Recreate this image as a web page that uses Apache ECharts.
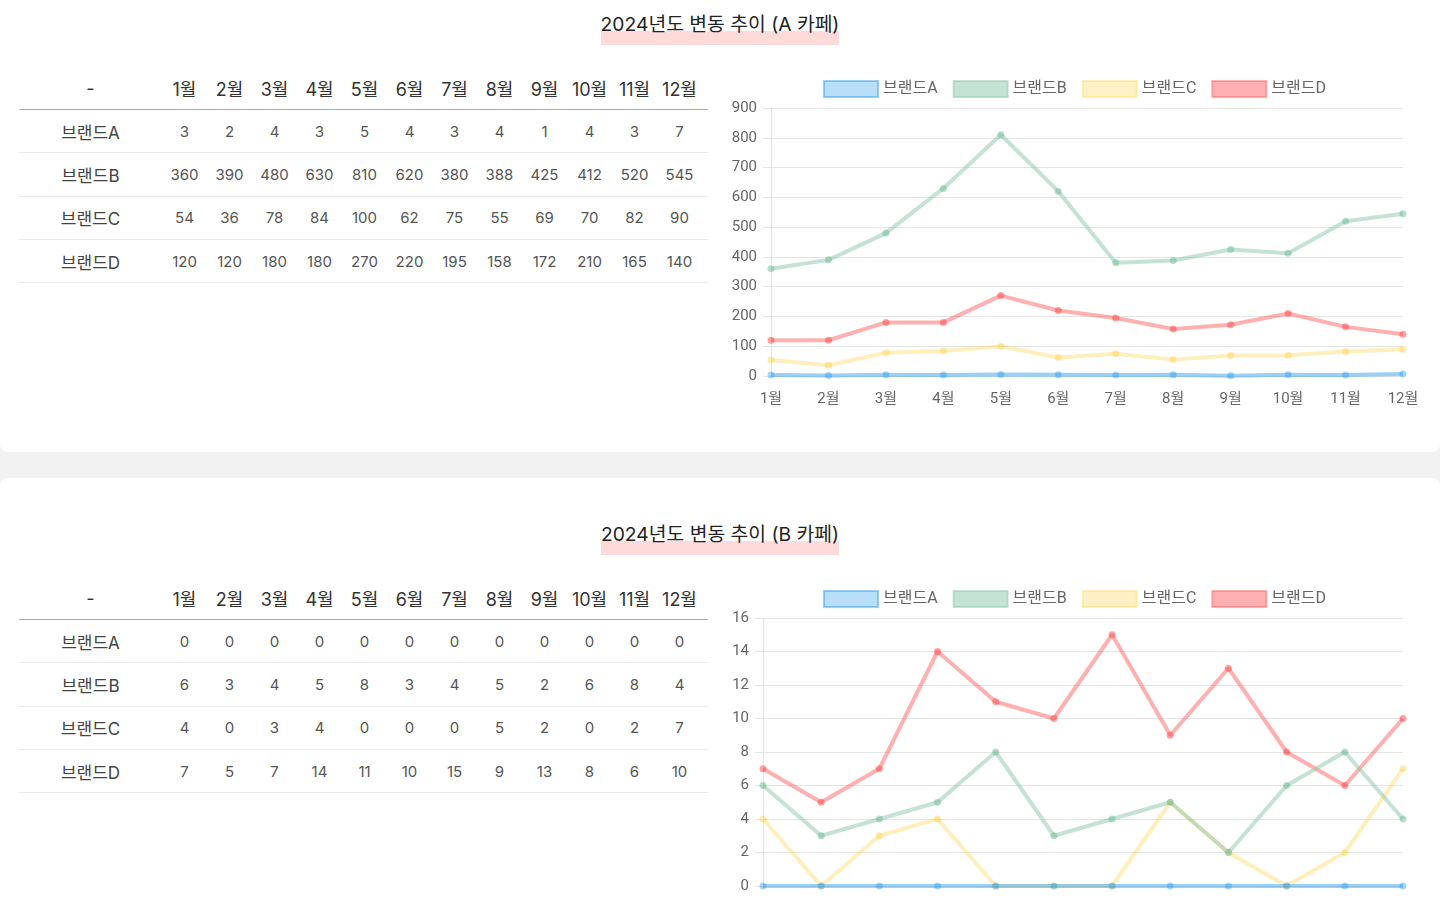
<!DOCTYPE html>
<html lang="ko">
<head>
<meta charset="utf-8">
<script src="https://cdn.jsdelivr.net/npm/echarts@6/dist/echarts.min.js"></script>
<style>
  html, body { margin: 0; padding: 0; }
  body {
    width: 1440px; height: 900px; overflow: hidden; position: relative;
    background: #f2f2f2;
    font-family: "Inter", "Noto Sans CJK KR", sans-serif;
  }
  .panel { position: absolute; left: 0; width: 1440px; background: #fff; }
  .title {
    position: absolute; left: 0; width: 1440px; text-align: center;
    font-size: 19.3px; color: #222;
  }
  .title span {
    display: inline-block; line-height: 26px; padding-bottom: 8px;
    background: linear-gradient(to bottom, transparent 58%, #ffdada 58%);
  }
  table {
    position: absolute; left: 19px; border-collapse: collapse; table-layout: fixed;
    width: 689px;
  }
  th, td { text-align: center; padding: 0; }
  th { height: 42px; font-size: 18px; color: #333; font-weight: 400; border-bottom: 1px solid #aaa; }
  td { height: 42.3px; font-size: 15px; color: #555; border-bottom: 1px solid #eaeaea; }
  td.brand { font-size: 17px; color: #444; }
  .chart { position: absolute; left: 720px; width: 720px; height: 360px; }
</style>
</head>
<body>
<div class="panel" style="top:0;height:452px;border-radius:0 0 8px 8px;"></div>
<div class="panel" style="top:478px;height:422px;border-radius:8px 8px 0 0;"></div>

<div class="title" style="top:11px"><span>2024년도 변동 추이 (A 카페)</span></div>
<table id="tableA" style="top:67px"></table>
<div id="chartA" class="chart" style="top:70px"></div>

<div class="title" style="top:521px"><span>2024년도 변동 추이 (B 카페)</span></div>
<table id="tableB" style="top:577px"></table>
<div id="chartB" class="chart" style="top:580px"></div>

<script>
const months = ["1월", "2월", "3월", "4월", "5월", "6월", "7월", "8월", "9월", "10월", "11월", "12월"];
const brands = ["브랜드A", "브랜드B", "브랜드C", "브랜드D"];

// A 카페
const cafeA_brandA = [3, 2, 4, 3, 5, 4, 3, 4, 1, 4, 3, 7];
const cafeA_brandB = [360, 390, 480, 630, 810, 620, 380, 388, 425, 412, 520, 545];
const cafeA_brandC = [54, 36, 78, 84, 100, 62, 75, 55, 69, 70, 82, 90];
const cafeA_brandD = [120, 120, 180, 180, 270, 220, 195, 158, 172, 210, 165, 140];

// B 카페
const cafeB_brandA = [0, 0, 0, 0, 0, 0, 0, 0, 0, 0, 0, 0];
const cafeB_brandB = [6, 3, 4, 5, 8, 3, 4, 5, 2, 6, 8, 4];
const cafeB_brandC = [4, 0, 3, 4, 0, 0, 0, 5, 2, 0, 2, 7];
const cafeB_brandD = [7, 5, 7, 14, 11, 10, 15, 9, 13, 8, 6, 10];

const lineColors = ["rgba(54,162,235,0.5)", "rgba(140,200,170,0.5)", "rgba(255,215,90,0.4)", "rgba(255,99,99,0.5)"];
const pointColors = ["rgba(54,162,235,0.45)", "rgba(110,190,150,0.5)", "rgba(255,210,80,0.45)", "rgba(255,70,70,0.5)"];
const boxColors = ["rgba(54,162,235,0.35)", "rgba(140,200,170,0.5)", "rgba(255,215,90,0.35)", "rgba(255,99,99,0.5)"];

const buildTable = (id, rows) => {
  let html = "<colgroup><col style='width:143px'>" + months.map(() => "<col style='width:45px'>").join("") + "<col style='width:6px'></colgroup>";
  html += "<tr><th>-</th>" + months.map((m) => `<th>${m}</th>`).join("") + "<th></th></tr>";
  rows.forEach((vals, i) => {
    html += `<tr><td class="brand">${brands[i]}</td>` + vals.map((v) => `<td>${v}</td>`).join("") + "<td></td></tr>";
  });
  document.getElementById(id).innerHTML = html;
};

const buildChart = (id, rows, max, interval, gridLeft) => {
  const chart = echarts.init(document.getElementById(id));
  chart.setOption({
    animation: false,
    textStyle: { fontFamily: "Roboto, 'Noto Sans CJK KR', sans-serif" },
    legend: {
      top: 5,
      left: 98,
      icon: "rect",
      itemWidth: 54,
      itemHeight: 16,
      itemGap: 15,
      textStyle: { color: "#666", fontSize: 16, fontFamily: "Roboto, 'Noto Sans CJK KR', sans-serif" },
      data: brands.map((b, i) => ({
        name: b,
        itemStyle: { color: boxColors[i], borderColor: lineColors[i], borderWidth: 2 },
      })),
    },
    grid: { left: gridLeft, right: 37, top: 38, height: 268 },
    xAxis: {
      type: "category",
      data: months,
      boundaryGap: false,
      axisLine: { show: false },
      axisTick: { show: false },
      splitLine: { show: false },
      axisLabel: { color: "#666", fontSize: 15, margin: 16 },
    },
    yAxis: {
      type: "value",
      min: 0,
      max: max,
      interval: interval,
      axisLine: { show: true, lineStyle: { color: "#e5e5e5" } },
      axisTick: { show: true, length: 8, lineStyle: { color: "#e5e5e5" } },
      splitLine: { lineStyle: { color: "#e5e5e5" } },
      axisLabel: { color: "#666", fontSize: 15, margin: 14 },
    },
    series: rows.map((vals, i) => ({
      name: brands[i],
      type: "line",
      data: vals,
      z: 10 - i,
      symbol: "circle",
      symbolSize: 7,
      showSymbol: true,
      lineStyle: { color: lineColors[i], width: 4 },
      itemStyle: { color: pointColors[i], borderWidth: 0 },
    })),
  });
};

const rowsA = [cafeA_brandA, cafeA_brandB, cafeA_brandC, cafeA_brandD];
const rowsB = [cafeB_brandA, cafeB_brandB, cafeB_brandC, cafeB_brandD];
buildTable("tableA", rowsA);
buildTable("tableB", rowsB);
buildChart("chartA", rowsA, 900, 100, 51);
buildChart("chartB", rowsB, 16, 2, 43);
</script>
</body>
</html>
